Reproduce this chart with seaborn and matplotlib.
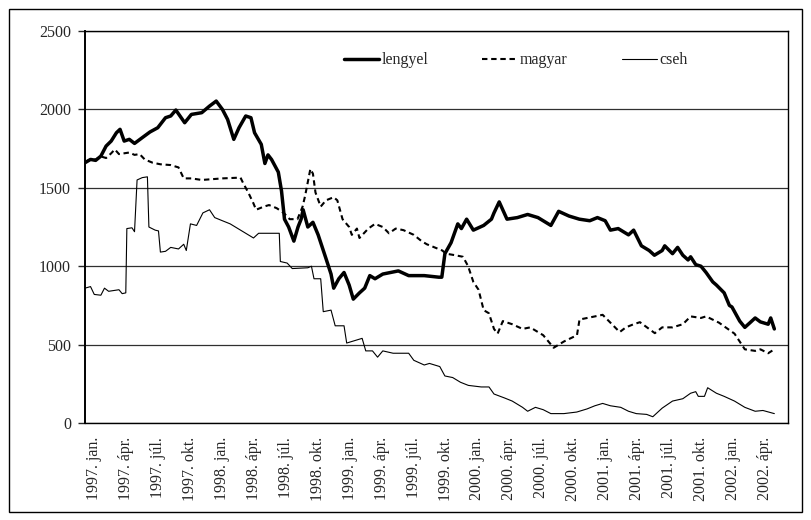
import numpy as np
import pandas as pd
import matplotlib
matplotlib.use("Agg")
import matplotlib.pyplot as plt
from matplotlib.patches import Rectangle
import seaborn as sns

# months counted from 1997 jan
lengyel_t = [0.0, 0.52, 1.0, 1.49, 1.98, 2.46, 2.95, 3.29, 3.68, 4.16, 4.65, 5.38, 6.1, 6.83,
             7.56, 8.05, 8.53, 9.36, 9.99, 10.96, 11.69, 12.32, 12.9, 13.39, 13.97, 14.46,
             15.09, 15.58, 15.92, 16.55, 16.89, 17.18, 17.52, 18.15, 18.45, 18.73, 19.12, 19.61,
             20.0, 20.29, 20.48, 20.92, 21.4, 21.89, 22.62, 23.1, 23.35, 23.83, 24.32, 24.8,
             25.19, 25.77, 26.26, 26.74, 27.23, 27.96, 29.42, 30.39, 31.85, 33.21, 33.5, 33.79,
             34.37, 35.0, 35.34, 35.83, 36.46, 37.43, 38.16, 38.4, 38.89, 39.62, 40.59, 41.56,
             42.53, 43.74, 44.47, 45.44, 46.41, 47.39, 48.11, 48.84, 49.33, 50.06, 51.03, 51.51,
             52.24, 52.97, 53.46, 54.19, 54.43, 55.16, 55.64, 56.13, 56.62, 56.86, 57.34, 57.83,
             58.31, 58.94, 59.28, 60.01, 60.5, 60.74, 61.47, 61.95, 62.44, 62.92, 63.41, 64.14,
             64.38, 64.72]
lengyel_v = [1660, 1681, 1675, 1702, 1766, 1798, 1851, 1873, 1798, 1809, 1783, 1820, 1856, 1883,
             1947, 1958, 1996, 1915, 1968, 1979, 2021, 2053, 2000, 1936, 1809, 1883,
             1958, 1947, 1851, 1777, 1655, 1710, 1680, 1600, 1480, 1300, 1250, 1160,
             1250, 1300, 1360, 1250, 1280, 1200, 1050, 950, 860, 920, 960, 880,
             790, 830, 860, 940, 920, 950, 970, 940, 940, 930, 930, 1080,
             1150, 1270, 1240, 1300, 1230, 1260, 1300, 1340, 1410, 1300, 1310, 1330,
             1310, 1260, 1350, 1320, 1300, 1290, 1310, 1290, 1230, 1240, 1200, 1230,
             1130, 1100, 1070, 1100, 1130, 1080, 1120, 1070, 1040, 1060, 1010, 1000,
             960, 900, 880, 830, 750, 740, 650, 610, 640, 670, 645, 630,
             670, 600]

magyar_t = [0.0, 0.5, 1.0, 1.49, 1.98, 2.46, 2.8, 3.19, 3.68, 4.16, 4.65, 5.13, 5.62, 6.35,
            7.08, 8.05, 8.78, 9.27, 9.99, 10.96, 11.93, 12.9, 14.6, 14.85, 15.33, 15.82,
            16.06, 16.79, 17.28, 18.0, 18.65, 19.22, 19.95, 20.43, 20.67, 21.16, 21.4, 21.64,
            22.13, 22.62, 23.35, 23.69, 24.18, 24.8, 25.05, 25.53, 25.77, 26.6, 27.23, 27.96,
            28.54, 29.17, 29.9, 30.87, 31.6, 32.09, 32.82, 33.55, 33.89, 34.76, 35.49, 35.97,
            36.46, 36.95, 37.43, 37.92, 38.4, 38.74, 39.23, 40.11, 41.08, 41.8, 43.02, 44.0,
            44.97, 46.19, 46.43, 47.88, 48.6, 49.33, 50.2, 50.78, 51.51, 52.1, 53.5, 54.19,
            55.16, 56.13, 56.86, 57.83, 58.31, 59.52, 60.98, 61.95, 62.92, 63.41, 64.14, 64.72]
magyar_v = [1665, 1680, 1680, 1700, 1690, 1720, 1745, 1715, 1720, 1725, 1710, 1715, 1680, 1660,
            1650, 1645, 1630, 1560, 1560, 1550, 1555, 1560, 1565, 1530, 1470, 1400,
            1360, 1380, 1390, 1370, 1340, 1300, 1300, 1380, 1450, 1620, 1590, 1470,
            1380, 1420, 1440, 1420, 1300, 1250, 1200, 1240, 1180, 1240, 1270, 1250,
            1210, 1240, 1230, 1200, 1160, 1140, 1120, 1100, 1080, 1070, 1060, 1000,
            900, 850, 720, 700, 600, 570, 650, 630, 600, 610, 560, 480,
            520, 560, 660, 680, 690, 640, 580, 610, 630, 643, 573, 610,
            610, 630, 680, 670, 680, 640, 570, 470, 460, 470, 445, 470]

cseh_t = [0.0, 0.52, 0.87, 1.49, 1.83, 2.22, 3.19, 3.49, 3.83, 3.93, 4.41, 4.65, 4.89, 5.38,
          5.86, 6.0, 6.59, 6.9, 7.08, 7.56, 8.05, 8.78, 9.27, 9.51, 9.9, 10.48, 11.07, 11.69,
          12.18, 12.9, 13.63, 14.36, 15.09, 15.82, 16.3, 18.24, 18.34, 18.98, 19.46, 20.92,
          21.26, 21.5, 22.13, 22.37, 23.1, 23.49, 24.32, 24.57, 25.54, 26.02, 26.36, 26.99,
          27.47, 27.96, 28.93, 30.39, 30.87, 31.85, 32.34, 33.31, 33.79, 34.52, 35.25, 35.99,
          37.2, 37.93, 38.4, 39.38, 40.11, 41.08, 41.56, 42.29, 43.02, 43.74, 44.96, 46.17,
          47.14, 47.87, 48.6, 49.33, 50.3, 51.03, 51.76, 52.73, 53.31, 54.19, 55.16, 56.13,
          56.86, 57.34, 57.58, 58.16, 58.46, 59.28, 60.01, 60.98, 61.95, 62.92, 63.65, 64.72]
cseh_v = [860, 870, 820, 815, 860, 840, 850, 825, 830, 1240, 1245, 1220, 1550, 1565,
          1570, 1250, 1230, 1225, 1090, 1095, 1120, 1110, 1140, 1100, 1270, 1260, 1340, 1360,
          1310, 1290, 1270, 1240, 1210, 1180, 1210, 1210, 1030, 1020, 985, 990,
          1000, 920, 920, 710, 720, 620, 620, 510, 530, 540, 460, 460,
          420, 460, 445, 445, 400, 370, 380, 360, 300, 290, 260, 240,
          230, 230, 185, 160, 140, 100, 75, 100, 85, 60, 60, 70,
          90, 110, 125, 110, 100, 75, 60, 55, 40, 95, 140, 155,
          190, 200, 170, 170, 225, 190, 170, 140, 100, 75, 80, 60]

tick_labels = [f"{y}. {m}" for y in range(1997, 2003) for m in ["jan.", "ápr.", "júl.", "okt."]][:22]

lengyel = pd.DataFrame({"month": lengyel_t, "value": lengyel_v})
magyar = pd.DataFrame({"month": magyar_t, "value": magyar_v})
cseh = pd.DataFrame({"month": cseh_t, "value": cseh_v})

sns.set_style("white")
plt.rcParams["font.family"] = ["Liberation Serif", "DejaVu Serif"]

fig = plt.figure(figsize=(8.11, 5.20), dpi=100)
ax = fig.add_axes([0.1048, 0.1865, 0.8668, 0.7539])

sns.lineplot(data=lengyel, x="month", y="value", ax=ax, color="black", linewidth=2.5,
             label="lengyel", estimator=None, sort=False, zorder=4)
sns.lineplot(data=magyar, x="month", y="value", ax=ax, color="black", linewidth=1.5,
             linestyle=(0, (2.6, 1.8)), label="magyar", estimator=None, sort=False, zorder=3)
sns.lineplot(data=cseh, x="month", y="value", ax=ax, color="black", linewidth=0.8,
             label="cseh", estimator=None, sort=False, zorder=2)

ax.set_xlim(0, 66)
ax.set_ylim(0, 2500)
ax.set_yticks([0, 500, 1000, 1500, 2000, 2500])
ax.set_xticks([0.85 + 3 * k for k in range(len(tick_labels))])
ax.set_xticklabels(tick_labels, rotation=90, fontsize=11.5)
ax.tick_params(axis="x", length=0, pad=10)
ax.tick_params(axis="y", length=5, width=1, direction="out", pad=5, labelsize=11.5, left=True)
ax.set_xlabel("")
ax.set_ylabel("")

ax.yaxis.grid(True, color="#303030", linewidth=0.9)
ax.set_axisbelow(True)
for s in ax.spines.values():
    s.set_color("black")
    s.set_linewidth(1.0)
ax.spines["left"].set_linewidth(1.4)

ax.legend(loc="center left", bbox_to_anchor=(0.368, 0.925), ncol=3, frameon=False,
          fontsize=11.5, handlelength=2.2, handletextpad=0.15, columnspacing=3.4,
          borderpad=0, borderaxespad=0)

fig.patches.append(Rectangle((9 / 811, 8 / 520), 793 / 811, 503 / 520,
                             transform=fig.transFigure, fill=False,
                             edgecolor="black", linewidth=1.0))

fig.savefig("out.png", dpi=100)
